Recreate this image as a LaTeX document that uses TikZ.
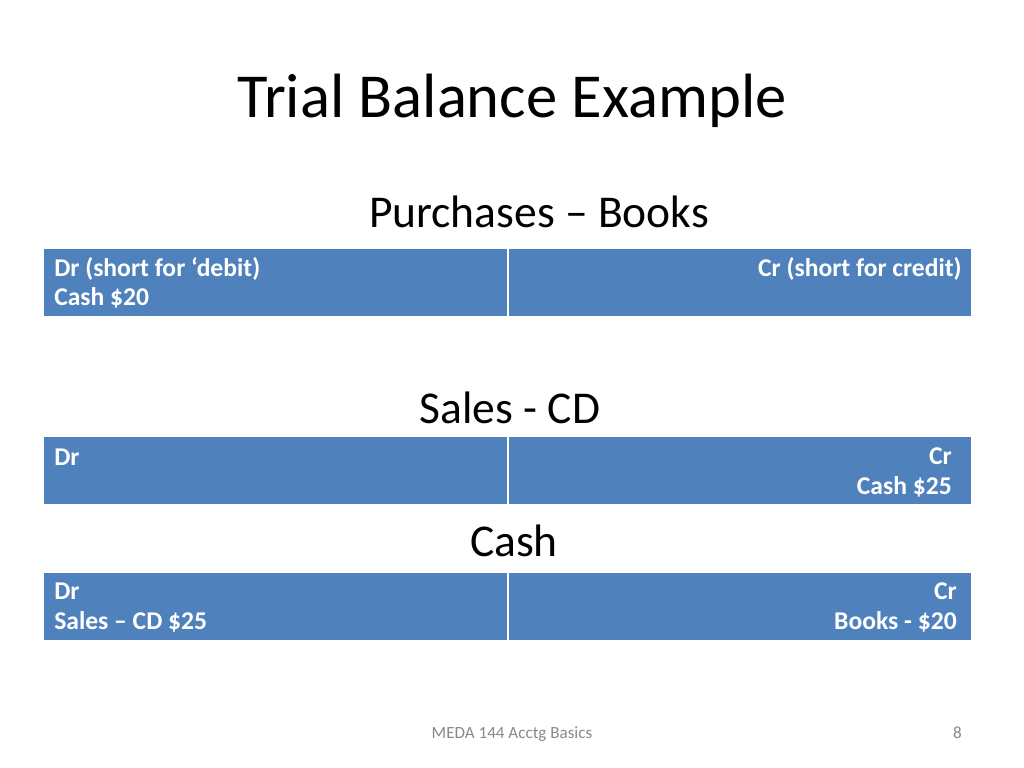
\documentclass[tikz,border=0pt]{standalone}
\usepackage{fontspec}
\setmainfont{Carlito}
\usepackage{xcolor}
\definecolor{cellblue}{HTML}{4F81BD}
\definecolor{footgray}{HTML}{898989}

\begin{document}
\begin{tikzpicture}[x=0.703125pt,y=-0.703125pt,
    cell/.style={fill=cellblue, draw=white, line width=1.2pt},
    heading/.style={anchor=base, inner sep=0pt, font=\fontsize{32}{38}\selectfont},
    lefttxt/.style={anchor=base west, inner sep=0pt, align=left, text=white, font=\fontsize{18}{20.5}\selectfont\bfseries},
    righttxt/.style={anchor=base east, inner sep=0pt, align=right, text=white, font=\fontsize{18}{20.5}\selectfont\bfseries},
    foot/.style={anchor=base, inner sep=0pt, text=footgray, font=\fontsize{12}{14}\selectfont}]
  \useasboundingbox[fill=white] (0,0) rectangle (1024,768);
  % title and headings
  \node[anchor=base, inner sep=0pt, font=\fontsize{44}{52}\selectfont] (title) at (512,118) {Trial Balance Example};
  \node[heading] (purch) at (539,228) {Purchases -- Books};
  \node[heading] (sales) at (510,423) {Sales - CD};
  \node[heading] (cash) at (514,556) {Cash};
  % T-account rows
  \foreach \top/\bot in {248/317, 436/505, 572/641} {
    \fill[cell] (43,\top) rectangle (508,\bot);
    \fill[cell] (508,\top) rectangle (972,\bot);
  }
  % base anchor sits on the last line
  \node[lefttxt] (purchDr) at (54,306) {Dr (short for `debit)\\Cash \$20};
  \node[righttxt] (purchCr) at (962,277) {Cr (short for credit)};
  \node[lefttxt] (salesDr) at (54,465) {Dr};
  \node[righttxt] (salesCr) at (952,494) {Cr\hspace{4pt}\\Cash \$25};
  \node[lefttxt] (cashDr) at (54,629) {Dr\\Sales -- CD \$25};
  \node[righttxt] (cashCr) at (957,629) {Cr\\Books - \$20};
  % footer
  \node[foot] (footer) at (512,738) {MEDA 144 Acctg Basics};
  \node[foot, anchor=base east] (page) at (962,738) {8};
\end{tikzpicture}
\end{document}
